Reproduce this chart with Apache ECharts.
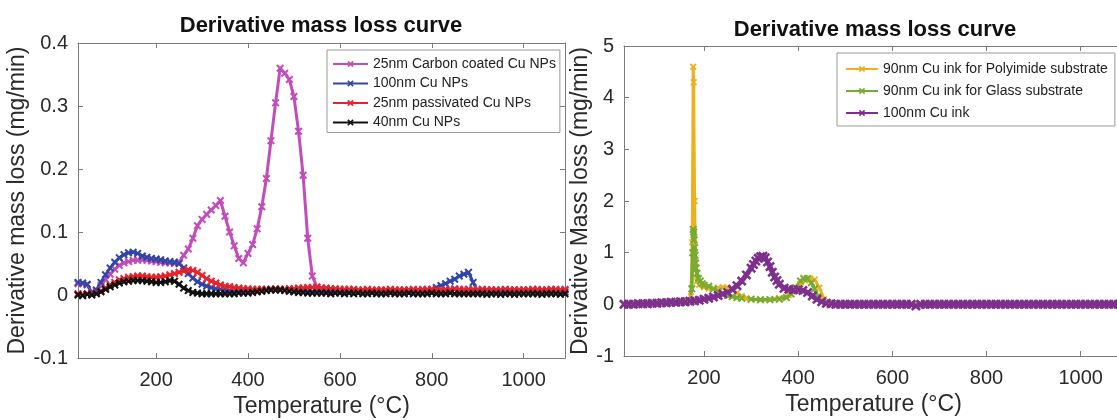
<!DOCTYPE html>
<html><head><meta charset="utf-8">
<script src="https://cdn.jsdelivr.net/npm/echarts@6/dist/echarts.min.js"></script>
<style>html,body{margin:0;padding:0;background:#fff}#c{width:1117px;height:420px}</style>
</head><body><div id="c"></div>
<script>
// ---------- data ----------
const titleText = 'Derivative mass loss curve';
const xName = 'Temperature (°C)';
const yNameLeft = 'Derivative mass loss (mg/min)';
const yNameRight = 'Derivative Mass loss (mg/min)';
const xTicks = [200, 400, 600, 800, 1000];

const namesLeft = ['25nm Carbon coated Cu NPs', '100nm Cu NPs', '25nm passivated Cu NPs', '40nm Cu NPs'];
const namesRight = ['90nm Cu ink for Polyimide substrate', '90nm Cu ink for Glass substrate', '100nm Cu ink'];

const tempL = [30,40,50,60,70,80,90,100,110,120,
 130,140,150,160,170,180,190,200,210,220,
 230,240,250,260,270,280,290,300,310,320,
 330,340,350,360,370,380,390,400,410,420,
 430,440,450,460,470,480,490,500,510,520,
 530,540,550,560,570,580,590,600,610,620,
 630,640,650,660,670,680,690,700,710,720,
 730,740,750,760,770,780,790,800,810,820,
 830,840,850,860,870,880,890,900,910,920,
 930,940,950,960,970,980,990,1000,1010,1020,
 1030,1040,1050,1060,1070,1080,1090];

const carbonCoated = [.018,.018,.016,.004,.006,.015,.025,.033,.041,.047,
 .051,.053,.055,.055,.056,.055,.054,.053,.052,.051,
 .051,.050,.052,.063,.073,.090,.110,.120,.128,.135,
 .142,.150,.125,.100,.078,.058,.051,.066,.080,.105,
 .140,.185,.245,.305,.360,.352,.342,.315,.260,.190,
 .090,.030,.013,.010,.009,.009,.008,.008,.008,.007,
 .008,.007,.007,.008,.007,.007,.008,.007,.007,.008,
 .007,.008,.008,.008,.008,.009,.009,.009,.009,.008,
 .009,.009,.010,.009,.009,.009,.009,.008,.008,.008,
 .008,.008,.007,.008,.008,.008,.008,.008,.008,.008,
 .009,.008,.008,.008,.009,.008,.009];

const cu100 = [.020,.019,.017,.003,.008,.020,.032,.043,.052,.059,
 .064,.067,.068,.066,.062,.060,.058,.057,.056,.054,
 .053,.052,.050,.043,.034,.027,.021,.017,.014,.012,
 .010,.009,.008,.007,.006,.006,.006,.006,.006,.007,
 .007,.008,.009,.009,.009,.008,.007,.006,.006,.006,
 .006,.005,.006,.006,.005,.006,.006,.005,.006,.005,
 .005,.006,.005,.005,.006,.005,.005,.005,.005,.006,
 .005,.005,.006,.006,.006,.006,.007,.008,.012,.015,
 .018,.022,.025,.030,.033,.036,.020,.006,.005,.005,
 .005,.005,.005,.005,.005,.005,.005,.005,.005,.005,
 .005,.005,.005,.005,.005,.005,.005];

const passivated = [.002,.001,.002,.001,.003,.006,.011,.016,.020,.024,
 .026,.028,.029,.030,.030,.029,.028,.028,.029,.030,
 .032,.034,.036,.038,.040,.039,.036,.031,.026,.022,
 .019,.016,.014,.013,.012,.011,.010,.010,.009,.009,
 .009,.009,.009,.010,.009,.009,.010,.010,.011,.011,
 .012,.012,.012,.011,.011,.010,.010,.009,.009,.009,
 .009,.008,.008,.009,.008,.008,.008,.008,.009,.008,
 .008,.008,.008,.009,.008,.008,.008,.009,.008,.008,
 .008,.008,.009,.008,.008,.008,.008,.008,.009,.008,
 .008,.008,.008,.009,.008,.008,.008,.008,.008,.009,
 .008,.008,.008,.009,.008,.008,.008];

const cu40 = [.000,-.001,.001,.000,.002,.005,.009,.013,.016,.019,
 .021,.022,.023,.023,.023,.022,.021,.020,.020,.021,
 .023,.022,.017,.011,.007,.004,.003,.002,.002,.002,
 .002,.002,.002,.002,.002,.003,.003,.003,.004,.005,
 .006,.007,.008,.008,.008,.007,.006,.005,.004,.004,
 .003,.003,.003,.003,.003,.002,.003,.003,.002,.003,
 .002,.003,.002,.002,.003,.002,.002,.002,.003,.002,
 .002,.002,.003,.002,.002,.002,.002,.003,.002,.002,
 .002,.003,.002,.002,.002,.002,.002,.002,.002,.001,
 .002,.002,.001,.002,.002,.001,.002,.002,.002,.002,
 .002,.001,.002,.002,.002,.001,.002];

const polyT = [30,50,70,90,110,130,150,
 165,172,175,177,178,180,182,185,190,
 200,210,220,230,240,250,260,270,280,290,300,
 320,340,360,380,
 395,405,415,425,435,445,455,465,
 480,500,
 550,600,650,700,750,800,850,900,950,1000,1050,
 1090];
const polyV = [0.02,0.02,0.02,0.02,0.03,0.03,0.04,
 0.06,0.15,1.2,4.6,4.3,2.0,0.8,0.45,0.38,
 0.33,0.3,0.3,0.32,0.33,0.32,0.28,0.22,0.16,0.12,0.1,
 0.09,0.1,0.12,0.18,
 0.28,0.4,0.46,0.5,0.48,0.32,0.1,0.02,
 0.01,0,
 0,0,0,0,0,0,0,0,0,0,0,
 0];

const glassT = [30,50,70,90,110,130,150,
 160,170,
 174,176,177,178,179,180,181,182,183,185,188,192,196,
 200,210,220,230,240,250,260,270,280,
 300,320,340,360,
 375,385,395,405,412,420,428,435,442,450,460,
 480,500,
 550,600,650,700,750,800,850,900,950,1000,1050,
 1090];
const glassV = [0.01,0.01,0.01,0.02,0.02,0.02,0.03,
 0.03,0.06,
 0.3,1.0,1.45,1.4,1.25,1.1,0.95,0.8,0.7,0.6,0.5,0.45,0.4,
 0.37,0.35,0.3,0.25,0.2,0.17,0.15,0.13,0.12,
 0.1,0.09,0.09,0.1,
 0.13,0.2,0.32,0.45,0.5,0.5,0.42,0.3,0.15,0.05,0.01,
 0,0,
 0,0,0,0,0,0,0,0,0,0,0,
 0];

const inkT = [30,40,50,60,70,80,90,100,110,120,130,140,150,160,170,180,190,200,210,220,230,240,250,260,270,280,290,300,
 305,310,315,320,325,330,335,340,345,350,355,360,
 370,380,390,400,410,420,430,440,450,460,470,480,
 490,500,510,520,530,540,550,560,570,580,
 590,600,610,620,630,640,650,660,670,680,
 690,700,710,720,730,740,750,760,770,780,
 790,800,810,820,830,840,850,860,870,880,
 890,900,910,920,930,940,950,960,970,980,
 990,1000,1010,1020,1030,1040,1050,1060,1070,1080,
 1090];
const inkV = [0,0,0,0.01,0.01,0.01,0.02,0.02,0.03,0.03,0.04,0.04,0.05,0.05,0.06,0.07,0.08,0.1,0.12,0.14,0.17,0.2,0.23,0.29,0.36,0.45,0.57,0.7,
 0.77,0.84,0.89,0.92,0.93,0.9,0.82,0.73,0.62,0.53,0.46,0.39,
 0.31,0.29,0.28,0.28,0.27,0.23,0.16,0.1,0.05,0.02,0.01,0,
 0,0,0,0,0,0,0,0,0,0,
 0,0,0,0,0,0,-0.03,0,0,0,
 0,0,0,0,0,0,0,0,0,0,
 0,0,0,0,0,0,0,0,0,0,
 0,0,0,0,0,0,0,0,0,0,
 0,0,0,0,0,0,0,0,0,0,
 0];

// ---------- chart ----------
const FONT = '"Liberation Sans", Arial, Helvetica, sans-serif';
const AX = '#7a7a7a';
const TXT = '#2a2a2a';
const cross = 'path://M0,1.8L1.8,0L5,3.2L8.2,0L10,1.8L6.8,5L10,8.2L8.2,10L5,6.8L1.8,10L0,8.2L3.2,5Z';
const zip = (t, v) => t.map((x, i) => [x, v[i]]);

function xAx(grid, pos, main) {
  return {
    type: 'value', gridIndex: grid, position: pos, min: 30, max: 1090,
    name: main ? xName : '', nameLocation: 'middle', nameGap: 37,
    nameTextStyle: { fontSize: 23, color: TXT, fontFamily: FONT },
    axisLine: { show: true, onZero: false, lineStyle: { color: AX, width: 1 } },
    axisTick: { show: true, inside: true, length: 5, customValues: xTicks, lineStyle: { color: AX } },
    axisLabel: { show: main, customValues: xTicks, formatter: v => String(v),
      fontSize: 20, color: TXT, fontFamily: FONT, margin: 12 },
    splitLine: { show: false }
  };
}
function yAx(grid, pos, main, mn, mx, iv, nm, gap) {
  return {
    type: 'value', gridIndex: grid, position: pos, min: mn, max: mx, interval: iv,
    name: main ? nm : '', nameLocation: 'middle', nameGap: gap,
    nameTextStyle: { fontSize: 23, color: TXT, fontFamily: FONT },
    axisLine: { show: true, onZero: false, lineStyle: { color: AX, width: 1 } },
    axisTick: { show: true, inside: true, length: 5, lineStyle: { color: AX } },
    axisLabel: { show: main, fontSize: 20, color: TXT, fontFamily: FONT, margin: 10 },
    splitLine: { show: false }
  };
}
function ser(name, data, color, xi, yi, lw, ss) {
  return {
    type: 'line', name: name, data: data, xAxisIndex: xi, yAxisIndex: yi,
    symbol: cross, symbolSize: ss, showSymbol: true, showAllSymbol: true,
    lineStyle: { color: color, width: lw }, itemStyle: { color: color },
    animation: false, z: 2
  };
}

const chart = echarts.init(document.getElementById('c'), null, { renderer: 'canvas' });
chart.setOption({
  backgroundColor: '#fff',
  animation: false,
  title: [
    { text: titleText, left: 321, top: 15, textAlign: 'center', padding: 0,
      textStyle: { fontSize: 22, fontWeight: 'bold', color: '#111', fontFamily: FONT } },
    { text: titleText, left: 875, top: 19, textAlign: 'center', padding: 0,
      textStyle: { fontSize: 22, fontWeight: 'bold', color: '#111', fontFamily: FONT } }
  ],
  grid: [
    { left: 78, top: 43, width: 487, height: 315, outerBoundsMode: 'none', containLabel: false },
    { left: 624, top: 46, right: -6, height: 310, outerBoundsMode: 'none', containLabel: false }
  ],
  xAxis: [xAx(0, 'bottom', true), xAx(0, 'top', false), xAx(1, 'bottom', true), xAx(1, 'top', false)],
  yAxis: [
    yAx(0, 'left', true, -0.1, 0.4, 0.1, yNameLeft, 44),
    yAx(0, 'right', false, -0.1, 0.4, 0.1, '', 0),
    yAx(1, 'left', true, -1, 5, 1, yNameRight, 30),
    yAx(1, 'right', false, -1, 5, 1, '', 0)
  ],
  legend: [
    { data: namesLeft, orient: 'vertical', left: 327, top: 50, itemWidth: 35, itemHeight: 8, itemGap: 5.5,
      padding: [7, 4, 3, 5], borderColor: '#999', borderWidth: 1, backgroundColor: '#fff',
      textStyle: { fontSize: 14, color: '#222', fontFamily: FONT } },
    { data: namesRight, orient: 'vertical', left: 837, top: 53, itemWidth: 32, itemHeight: 8, itemGap: 8,
      padding: [9, 7, 6, 8], borderColor: '#999', borderWidth: 1, backgroundColor: '#fff',
      textStyle: { fontSize: 14, color: '#222', fontFamily: FONT } }
  ],
  series: [
    ser(namesLeft[0], zip(tempL, carbonCoated), '#C24CBA', 0, 0, 3, 8),
    ser(namesLeft[1], zip(tempL, cu100), '#2F46A8', 0, 0, 3, 8),
    ser(namesLeft[2], zip(tempL, passivated), '#E8232A', 0, 0, 3, 8),
    ser(namesLeft[3], zip(tempL, cu40), '#111111', 0, 0, 3, 8),
    ser(namesRight[0], zip(polyT, polyV), '#EDB120', 2, 2, 3, 7),
    ser(namesRight[1], zip(glassT, glassV), '#77AC30', 2, 2, 3.5, 8),
    ser(namesRight[2], zip(inkT, inkV), '#7E2F8E', 2, 2, 5, 10)
  ]
});
</script></body></html>
